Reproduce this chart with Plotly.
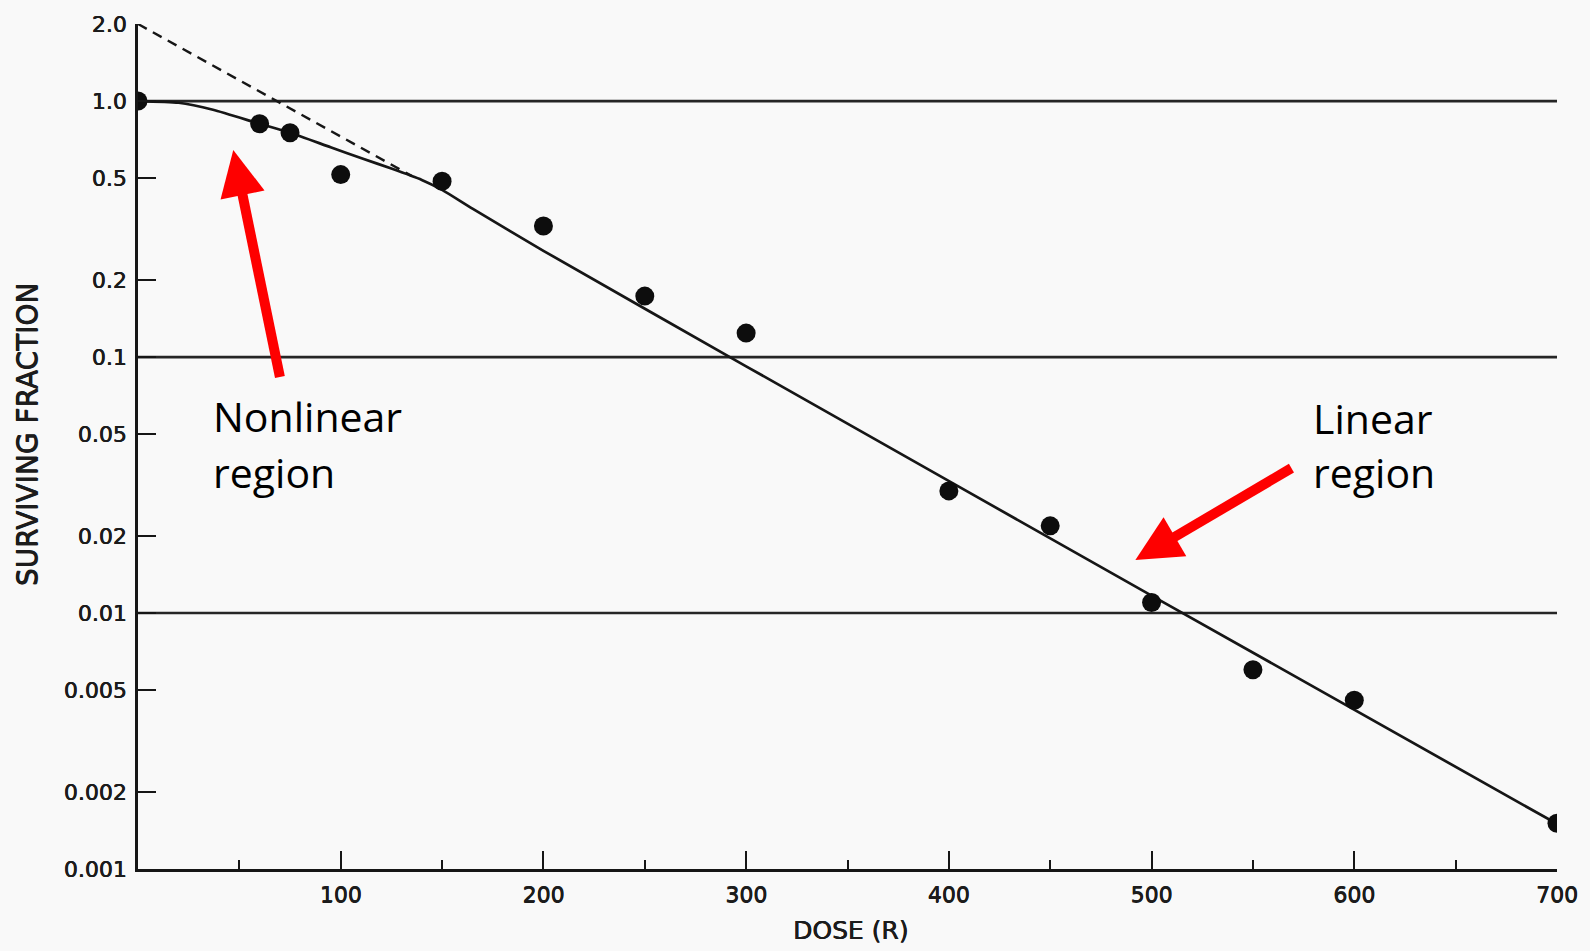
import math
import plotly.graph_objects as go

# Measured cell survival (dose in roentgen, surviving fraction)
dose = [0, 60, 75, 100, 150, 200, 250, 300, 400, 450, 500, 550, 600, 700]
surviving_fraction = [1.0, 0.815, 0.752, 0.516, 0.486, 0.325, 0.173, 0.124,
                      0.030, 0.0219, 0.0110, 0.0060, 0.00456, 0.00151]

# Fitted survival curve: shoulder, then exponential tail
fit_dose = [0, 20, 37, 60, 75, 95, 111, 125, 140, 150, 165, 200, 300, 500, 700]
fit_fraction = [1.0, 0.985, 0.925, 0.815, 0.752, 0.66, 0.595, 0.545, 0.492,
                0.45, 0.38, 0.26, 0.092, 0.0117, 0.0015]

# Back-extrapolation of the exponential tail to the dose axis origin
extrap_dose = [0, 135]
extrap_fraction = [2.0, 0.51]

y_tickvals = [0.001, 0.002, 0.005, 0.01, 0.02, 0.05, 0.1, 0.2, 0.5, 1.0, 2.0]
y_ticktext = ["0.001", "0.002", "0.005", "0.01", "0.02", "0.05",
              "0.1", "0.2", "0.5", "1.0", "2.0"]
x_tickvals = [100, 200, 300, 400, 500, 600, 700]
x_ticktext = ["100", "200", "300", "400", "500", "600", "700"]
grid_levels = [1.0, 0.1, 0.01]

# ---- geometry -------------------------------------------------------------
W, H = 1590, 951
M = dict(l=138, r=30, t=24, b=82)
PW = W - M["l"] - M["r"]
PH = H - M["t"] - M["b"]
X_RANGE = [0, 700]
Y_RANGE = [-3.0, math.log10(2.0)]

INK = "#161616"
RED = "#fe0000"
BG = "#f9f9f9"
LETTER_SHADOW = "0.5px 0 0 #1c1c1c, 0 0.3px 0 #1c1c1c"
TICK_FONT = dict(family="DejaVu Sans", size=22, color="#1c1c1c",
                 shadow=LETTER_SHADOW)


def data_to_px(d, s):
    px = M["l"] + (d - X_RANGE[0]) / (X_RANGE[1] - X_RANGE[0]) * PW
    py = M["t"] + (Y_RANGE[1] - math.log10(s)) / (Y_RANGE[1] - Y_RANGE[0]) * PH
    return px, py


def px_to_paper(px, py):
    return (px - M["l"]) / PW, (H - M["b"] - py) / PH


def arrow_shapes(tail, tip, shaft=10, head_len=46, head_w=45):
    tx, ty = data_to_px(*tail)
    hx, hy = data_to_px(*tip)
    L = math.hypot(hx - tx, hy - ty)
    ux, uy = (hx - tx) / L, (hy - ty) / L
    nx, ny = -uy, ux
    bx, by = hx - ux * head_len, hy - uy * head_len
    c1 = (bx + nx * head_w / 2, by + ny * head_w / 2)
    c2 = (bx - nx * head_w / 2, by - ny * head_w / 2)
    p_tail = px_to_paper(tx, ty)
    p_base = px_to_paper(bx + ux * 3, by + uy * 3)
    p_tip = px_to_paper(hx, hy)
    p1 = px_to_paper(*c1)
    p2 = px_to_paper(*c2)
    shaft_shape = dict(type="line", xref="paper", yref="paper",
                       x0=p_tail[0], y0=p_tail[1], x1=p_base[0], y1=p_base[1],
                       line=dict(color=RED, width=shaft))
    head_shape = dict(type="path", xref="paper", yref="paper",
                      path=(f"M {p_tip[0]:.5f},{p_tip[1]:.5f} "
                            f"L {p1[0]:.5f},{p1[1]:.5f} "
                            f"L {p2[0]:.5f},{p2[1]:.5f} Z"),
                      fillcolor=RED, line=dict(width=0))
    return [shaft_shape, head_shape]


fig = go.Figure()

fig.add_trace(go.Scatter(
    x=extrap_dose, y=extrap_fraction, mode="lines",
    line=dict(color=INK, width=2.4, dash="10px,7px"),
    hoverinfo="skip"))

fig.add_trace(go.Scatter(
    x=fit_dose, y=fit_fraction, mode="lines",
    line=dict(color=INK, width=2.7, shape="spline", smoothing=0.6),
    hoverinfo="skip"))

fig.add_trace(go.Scatter(
    x=dose, y=surviving_fraction, mode="markers",
    marker=dict(color="#0d0d0d", size=19, line=dict(width=0))))

shapes = []
for level in grid_levels:
    shapes.append(dict(type="line", xref="x", yref="y",
                       x0=X_RANGE[0], x1=X_RANGE[1], y0=level, y1=level,
                       line=dict(color="#262626", width=2.7), layer="below"))

shapes += arrow_shapes(tail=(70, 0.0836), tip=(47, 0.644))
shapes += arrow_shapes(tail=(569, 0.0368), tip=(492, 0.0161))

TEXT_FONT = dict(family="Open Sans", size=41, color="#000000")


def label(text, px, py):
    x, y = px_to_paper(px, py)
    return dict(text=text, xref="paper", yref="paper", x=x, y=y,
                xanchor="left", yanchor="middle", showarrow=False,
                font=TEXT_FONT)


annotations = [
    label("Nonlinear", 211, 416),
    label("region", 211, 472),
    label("Linear", 1313, 418),
    label("region", 1313, 472),
]

# axis titles
tx, ty = px_to_paper(27, 434)
annotations.append(dict(text="SURVIVING FRACTION", xref="paper", yref="paper",
                        x=tx, y=ty, xanchor="center", yanchor="middle",
                        textangle=-90, showarrow=False,
                        font=dict(family="DejaVu Sans", size=28,
                                  color="#1c1c1c", shadow=LETTER_SHADOW)))
tx, ty = px_to_paper(852, 930)
annotations.append(dict(text="DOSE (R)", xref="paper", yref="paper",
                        x=tx, y=ty, xanchor="center", yanchor="middle",
                        showarrow=False,
                        font=dict(family="DejaVu Sans", size=25,
                                  color="#1c1c1c", shadow=LETTER_SHADOW)))

fig.update_layout(
    width=W, height=H,
    margin=M,
    paper_bgcolor=BG, plot_bgcolor=BG,
    showlegend=False,
    shapes=shapes,
    annotations=annotations,
    xaxis=dict(
        range=X_RANGE, showgrid=False, zeroline=False,
        showline=True, linecolor=INK, linewidth=2.7,
        tickmode="array", tickvals=x_tickvals, ticktext=x_ticktext,
        ticks="inside", ticklen=18, tickwidth=2.3, tickcolor=INK,
        tickfont=TICK_FONT, ticklabelstandoff=4,
        minor=dict(dtick=50, tick0=0, ticks="inside", ticklen=9,
                   tickwidth=2, tickcolor=INK, showgrid=False),
    ),
    yaxis=dict(
        type="log", range=Y_RANGE, showgrid=False, zeroline=False,
        showline=True, linecolor=INK, linewidth=2.7,
        tickmode="array", tickvals=y_tickvals, ticktext=y_ticktext,
        ticks="inside", ticklen=18, tickwidth=2.3, tickcolor=INK,
        tickfont=TICK_FONT, ticklabelstandoff=4,
    ),
)

fig.write_html("out.html")
